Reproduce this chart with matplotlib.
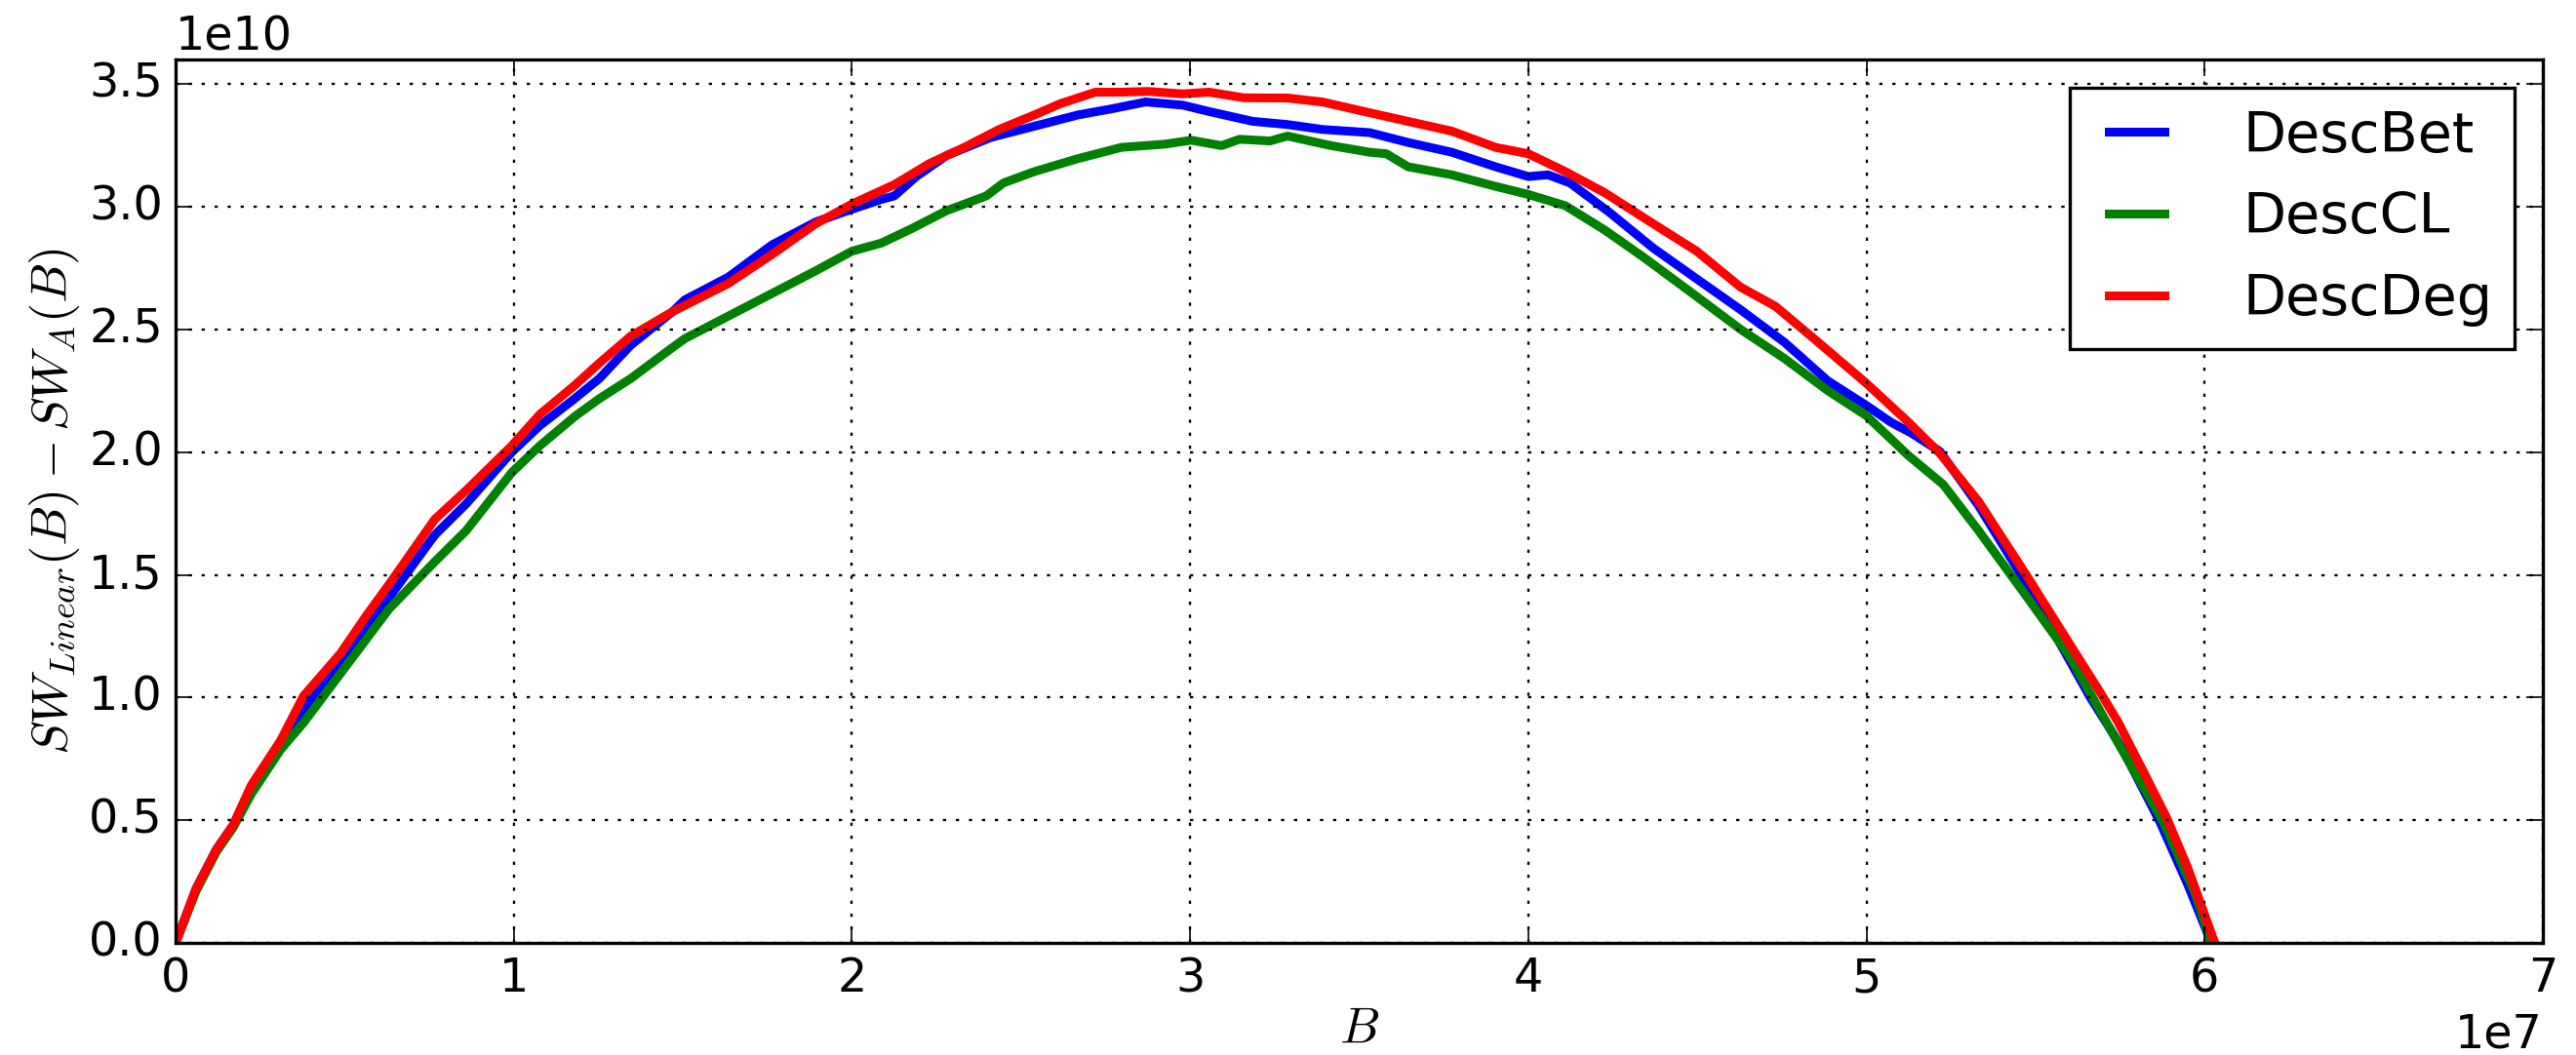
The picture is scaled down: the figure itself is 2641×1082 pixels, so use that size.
import matplotlib
matplotlib.use("Agg")
import matplotlib.pyplot as plt
import numpy as np

# B in units of 1e7, values in units of 1e10
bet_b = [0, 0.06, 0.12, 0.17, 0.223, 0.31, 0.378, 0.487, 0.631, 0.766, 0.859, 0.994,
         1.077, 1.18, 1.253, 1.346, 1.47, 1.505, 1.634, 1.764, 1.893, 2.0, 2.087, 2.125,
         2.19, 2.28, 2.41, 2.539, 2.668, 2.772, 2.868, 2.978, 3.056, 3.185, 3.288, 3.391,
         3.531, 3.644, 3.774, 3.903, 4.0, 4.058, 4.123, 4.239, 4.369, 4.498, 4.627, 4.757,
         4.886, 5.0, 5.072, 5.132, 5.217, 5.331, 5.475, 5.661, 5.754, 5.868, 5.95, 6.02]
bet_v = [0, 0.22, 0.38, 0.48, 0.63, 0.80, 0.951, 1.142, 1.407, 1.662, 1.789, 2.0,
         2.108, 2.218, 2.30, 2.436, 2.573, 2.62, 2.713, 2.845, 2.938, 2.99, 3.03, 3.044,
         3.123, 3.209, 3.282, 3.328, 3.374, 3.40, 3.427, 3.414, 3.388, 3.348, 3.335, 3.315,
         3.302, 3.262, 3.222, 3.163, 3.123, 3.13, 3.097, 2.978, 2.832, 2.706, 2.581, 2.448,
         2.29, 2.19, 2.122, 2.078, 2.003, 1.783, 1.46, 1.002, 0.798, 0.492, 0.238, 0]

cl_b = [0, 0.06, 0.12, 0.17, 0.223, 0.31, 0.378, 0.487, 0.631, 0.766, 0.859, 0.994,
        1.077, 1.18, 1.253, 1.346, 1.47, 1.505, 1.634, 1.764, 1.893, 2.0, 2.087, 2.177,
        2.28, 2.397, 2.448, 2.539, 2.668, 2.797, 2.926, 3.003, 3.093, 3.146, 3.236, 3.288,
        3.417, 3.531, 3.58, 3.644, 3.774, 3.903, 4.0, 4.11, 4.226, 4.343, 4.498, 4.627,
        4.757, 4.886, 5.0, 5.124, 5.227, 5.331, 5.475, 5.599, 5.744, 5.878, 5.971, 6.02]
cl_v = [0, 0.21, 0.37, 0.47, 0.605, 0.787, 0.897, 1.097, 1.361, 1.553, 1.68, 1.917,
        2.026, 2.145, 2.218, 2.30, 2.427, 2.462, 2.554, 2.647, 2.739, 2.819, 2.852, 2.911,
        2.984, 3.044, 3.097, 3.143, 3.196, 3.242, 3.255, 3.271, 3.249, 3.275, 3.268, 3.288,
        3.249, 3.222, 3.216, 3.163, 3.13, 3.083, 3.05, 3.004, 2.905, 2.792, 2.634, 2.501,
        2.382, 2.25, 2.148, 1.986, 1.868, 1.681, 1.409, 1.171, 0.815, 0.492, 0.204, 0]

deg_b = [0, 0.06, 0.12, 0.17, 0.223, 0.31, 0.378, 0.487, 0.564, 0.631, 0.766, 0.859,
         0.994, 1.077, 1.18, 1.253, 1.346, 1.47, 1.634, 1.764, 1.893, 2.0, 2.125, 2.229,
         2.332, 2.435, 2.539, 2.616, 2.72, 2.797, 2.875, 2.978, 3.056, 3.159, 3.288, 3.391,
         3.515, 3.644, 3.774, 3.903, 4.0, 4.11, 4.226, 4.369, 4.498, 4.627, 4.731, 4.845,
         5.0, 5.124, 5.217, 5.331, 5.475, 5.599, 5.692, 5.744, 5.826, 5.888, 5.95, 6.03]
deg_v = [0, 0.22, 0.38, 0.48, 0.641, 0.824, 1.006, 1.179, 1.334, 1.461, 1.726, 1.844,
         2.026, 2.154, 2.272, 2.363, 2.473, 2.573, 2.687, 2.806, 2.931, 3.011, 3.09, 3.176,
         3.242, 3.315, 3.374, 3.42, 3.467, 3.467, 3.47, 3.46, 3.467, 3.444, 3.443, 3.427,
         3.388, 3.348, 3.308, 3.242, 3.216, 3.143, 3.057, 2.931, 2.819, 2.673, 2.594, 2.462,
         2.28, 2.122, 1.995, 1.80, 1.494, 1.222, 1.019, 0.90, 0.679, 0.509, 0.306, 0]

series = [
    ("DescBet", bet_b, bet_v, "b"),
    ("DescCL", cl_b, cl_v, "g"),
    ("DescDeg", deg_b, deg_v, "r"),
]

plt.style.use("classic")
plt.rcParams["figure.facecolor"] = "white"
plt.rcParams["font.size"] = 14.3
plt.rcParams["grid.linewidth"] = 0.7

dpi = 240
fig = plt.figure(figsize=(2641 / dpi, 1082 / dpi), dpi=dpi)
ax = fig.add_axes([0.0682, 0.1063, 0.9189, 0.8373])

for name, b, v, c in series:
    ax.plot(np.array(b) * 1e7, np.array(v) * 1e10, color=c, lw=2.7, label=name)

ax.set_xlim(0, 7e7)
ax.set_ylim(0, 3.6e10)
ax.grid(True)
ax.tick_params(length=5.2)
ax.set_xlabel(r"$B$", fontsize=15.5, labelpad=1)
ax.set_ylabel(r"$SW_{Linear}(B) - SW_A(B)$", fontsize=15.5, labelpad=2)
ax.legend(loc="upper right", handlelength=1.6, handletextpad=1.1)

fig.savefig("out.png", dpi=dpi, facecolor="white")
